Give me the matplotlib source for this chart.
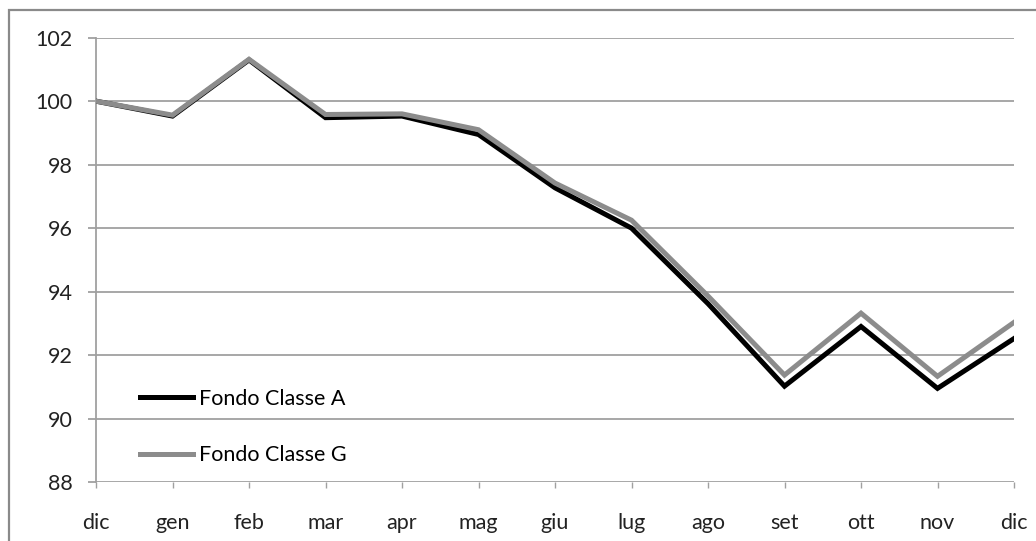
import matplotlib.pyplot as plt
from matplotlib.patches import Rectangle

mesi = ["dic", "gen", "feb", "mar", "apr", "mag", "giu", "lug", "ago", "set", "ott", "nov", "dic"]
classe_a = [100.0, 99.53, 101.3, 99.48, 99.53, 98.95, 97.27, 96.0, 93.62, 91.02, 92.9, 90.95, 92.52]
classe_g = [100.0, 99.56, 101.32, 99.58, 99.6, 99.1, 97.42, 96.25, 93.86, 91.37, 93.32, 91.33, 93.03]
y_ticks = [88, 90, 92, 94, 96, 98, 100, 102]

plt.rcParams['font.family'] = ['Lato', 'DejaVu Sans']

fig = plt.figure(figsize=(10.36, 5.41), dpi=100)
ax = fig.add_axes([96 / 1036, 1 - 482 / 541, (1014 - 96) / 1036, (482 - 37.7) / 541])

# cornice esterna del grafico
fig.patches.append(Rectangle((9 / 1036, -0.1), 1.2, 1 - 10 / 541 + 0.1,
                             transform=fig.transFigure, fill=False,
                             edgecolor="#8a8a8a", linewidth=1.6))

x = range(len(mesi))
ax.plot(x, classe_a, color="black", linewidth=3.6, label="Fondo Classe A",
        solid_joinstyle="miter", zorder=3)
ax.plot(x, classe_g, color="#8c8c8c", linewidth=3.6, label="Fondo Classe G",
        solid_joinstyle="miter", zorder=4)

ax.set_xlim(0, len(mesi) - 1)
ax.set_ylim(88, 102)
ax.set_xticks(list(x))
ax.set_xticklabels(mesi)
ax.set_yticks(y_ticks)

ax.yaxis.grid(True, color="#a0a0a0", linewidth=1.3)
ax.set_axisbelow(True)
for side in ["top", "right", "bottom"]:
    ax.spines[side].set_visible(False)
ax.spines["left"].set_color("#a0a0a0")
ax.spines["left"].set_linewidth(1.3)

ax.tick_params(axis="y", length=6, width=1.3, color="#a0a0a0", pad=11,
               labelsize=15.5, labelcolor="#222222")
ax.tick_params(axis="x", length=4.5, width=1.0, color="#a0a0a0", pad=18,
               labelsize=15.5, labelcolor="#222222", direction="out")

ax.legend(loc="lower left", bbox_to_anchor=(35 / 918, 0.018), frameon=False,
          fontsize=15.5, handlelength=2.5, handletextpad=0.25, labelspacing=1.7,
          borderaxespad=0)

fig.savefig("out.png", dpi=100)
